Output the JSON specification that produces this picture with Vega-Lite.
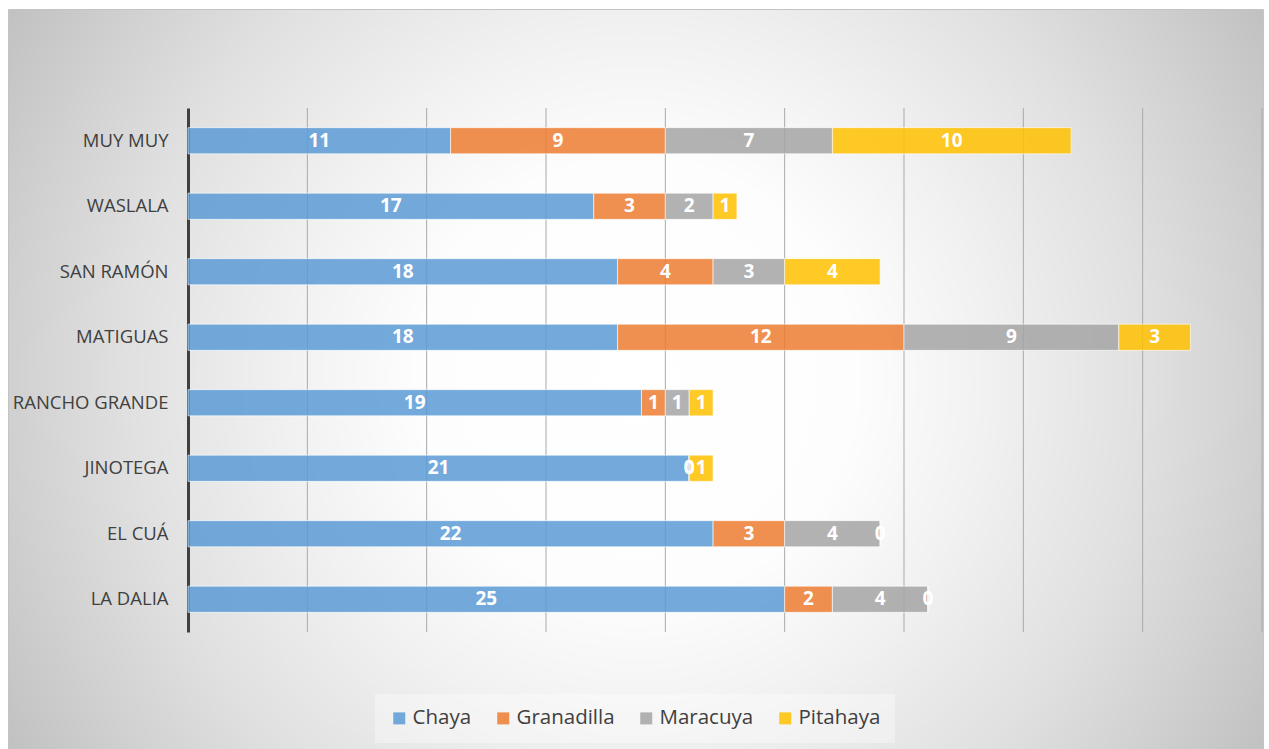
{
  "$schema": "https://vega.github.io/schema/vega-lite/v6.json",
  "width": 1255,
  "height": 740,
  "autosize": {"type": "none"},
  "padding": {"left": 8, "top": 9, "right": 6, "bottom": 0},
  "background": "white",
  "config": {"font": "Open Sans"},
  "view": {
    "stroke": "#c4c4c4",
    "strokeWidth": 1,
    "fill": {
      "gradient": "radial",
      "x1": 0.5, "y1": 0.5, "r1": 0,
      "x2": 0.5, "y2": 0.5, "r2": 0.58,
      "stops": [
        {"offset": 0, "color": "#ffffff"},
        {"offset": 0.3, "color": "#fdfdfd"},
        {"offset": 0.48, "color": "#f1f1f1"},
        {"offset": 0.7, "color": "#e0e0e0"},
        {"offset": 0.85, "color": "#d1d1d1"},
        {"offset": 1, "color": "#c1c1c1"}
      ]
    }
  },
  "datasets": {
    "grid": [
      {"g": 5}, {"g": 10}, {"g": 15}, {"g": 20}, {"g": 25},
      {"g": 30}, {"g": 35}, {"g": 40}, {"g": 45}
    ],
    "frutas": [
      {"muni": "MUY MUY", "fruta": "Chaya", "n": 11},
      {"muni": "MUY MUY", "fruta": "Granadilla", "n": 9},
      {"muni": "MUY MUY", "fruta": "Maracuya", "n": 7},
      {"muni": "MUY MUY", "fruta": "Pitahaya", "n": 10},
      {"muni": "WASLALA", "fruta": "Chaya", "n": 17},
      {"muni": "WASLALA", "fruta": "Granadilla", "n": 3},
      {"muni": "WASLALA", "fruta": "Maracuya", "n": 2},
      {"muni": "WASLALA", "fruta": "Pitahaya", "n": 1},
      {"muni": "SAN RAMÓN", "fruta": "Chaya", "n": 18},
      {"muni": "SAN RAMÓN", "fruta": "Granadilla", "n": 4},
      {"muni": "SAN RAMÓN", "fruta": "Maracuya", "n": 3},
      {"muni": "SAN RAMÓN", "fruta": "Pitahaya", "n": 4},
      {"muni": "MATIGUAS", "fruta": "Chaya", "n": 18},
      {"muni": "MATIGUAS", "fruta": "Granadilla", "n": 12},
      {"muni": "MATIGUAS", "fruta": "Maracuya", "n": 9},
      {"muni": "MATIGUAS", "fruta": "Pitahaya", "n": 3},
      {"muni": "RANCHO GRANDE", "fruta": "Chaya", "n": 19},
      {"muni": "RANCHO GRANDE", "fruta": "Granadilla", "n": 1},
      {"muni": "RANCHO GRANDE", "fruta": "Maracuya", "n": 1},
      {"muni": "RANCHO GRANDE", "fruta": "Pitahaya", "n": 1},
      {"muni": "JINOTEGA", "fruta": "Chaya", "n": 21},
      {"muni": "JINOTEGA", "fruta": "Granadilla", "n": 0},
      {"muni": "JINOTEGA", "fruta": "Maracuya", "n": 0},
      {"muni": "JINOTEGA", "fruta": "Pitahaya", "n": 1},
      {"muni": "EL CUÁ", "fruta": "Chaya", "n": 22},
      {"muni": "EL CUÁ", "fruta": "Granadilla", "n": 3},
      {"muni": "EL CUÁ", "fruta": "Maracuya", "n": 4},
      {"muni": "EL CUÁ", "fruta": "Pitahaya", "n": 0},
      {"muni": "LA DALIA", "fruta": "Chaya", "n": 25},
      {"muni": "LA DALIA", "fruta": "Granadilla", "n": 2},
      {"muni": "LA DALIA", "fruta": "Maracuya", "n": 4},
      {"muni": "LA DALIA", "fruta": "Pitahaya", "n": 0}
    ]
  },
  "resolve": {"scale": {"y": "independent"}},
  "layer": [
    {
      "data": {"name": "grid"},
      "mark": {"type": "rule", "color": "#a9a9a9", "strokeWidth": 1},
      "encoding": {
        "x": {
          "field": "g",
          "type": "quantitative",
          "scale": {"domain": [0, 45], "range": [180, 1254], "nice": false, "zero": true},
          "axis": null
        },
        "y": {
          "datum": 0,
          "type": "quantitative",
          "scale": {"domain": [0, 1], "range": [99, 623], "nice": false, "zero": false},
          "axis": null
        },
        "y2": {"datum": 1}
      }
    },
    {
      "data": {"name": "frutas"},
      "mark": {"type": "bar", "fillOpacity": 0.85, "stroke": "white", "strokeOpacity": 0.6, "strokeWidth": 1},
      "encoding": {
        "y": {
          "field": "muni",
          "type": "nominal",
          "sort": ["MUY MUY", "WASLALA", "SAN RAMÓN", "MATIGUAS", "RANCHO GRANDE", "JINOTEGA", "EL CUÁ", "LA DALIA"],
          "scale": {"range": [99, 623], "paddingInner": 0.6, "paddingOuter": 0.3},
          "axis": {
            "title": null,
            "offset": -180,
            "domain": true,
            "domainColor": "#404040",
            "domainWidth": 3,
            "ticks": false,
            "grid": false,
            "labelFont": "Open Sans",
            "labelFontSize": 18.5,
            "labelColor": "#404040",
            "labelPadding": 20
          }
        },
        "x": {
          "field": "n",
          "type": "quantitative",
          "stack": "zero",
          "scale": {"domain": [0, 45], "range": [180, 1254], "nice": false, "zero": true},
          "axis": null
        },
        "order": {"field": "fruta", "sort": "ascending"},
        "color": {
          "field": "fruta",
          "type": "nominal",
          "scale": {
            "domain": ["Chaya", "Granadilla", "Maracuya", "Pitahaya"],
            "range": ["#5B9BD5", "#ED7D31", "#A5A5A5", "#FFC000"]
          },
          "legend": {
            "title": null,
            "orient": "none",
            "legendX": 367,
            "legendY": 685,
            "direction": "horizontal",
            "columns": 4,
            "symbolType": "square",
            "symbolSize": 144,
            "symbolStrokeWidth": 0,
            "symbolOpacity": 0.85,
            "labelFont": "Open Sans",
            "labelFontSize": 20.5,
            "labelColor": "#404040",
            "columnPadding": 21,
            "labelOffset": 3,
            "padding": 14,
            "fillColor": "rgba(255,255,255,0.35)"
          }
        }
      }
    },
    {
      "data": {"name": "frutas"},
      "mark": {"type": "text", "color": "white", "fontWeight": "bold", "fontSize": 19, "font": "Open Sans", "baseline": "middle", "align": "center"},
      "encoding": {
        "y": {
          "field": "muni",
          "type": "nominal",
          "sort": ["MUY MUY", "WASLALA", "SAN RAMÓN", "MATIGUAS", "RANCHO GRANDE", "JINOTEGA", "EL CUÁ", "LA DALIA"],
          "scale": {"range": [99, 623], "paddingInner": 0.6, "paddingOuter": 0.3},
          "axis": null
        },
        "x": {
          "field": "n",
          "type": "quantitative",
          "stack": "zero",
          "bandPosition": 0.5,
          "scale": {"domain": [0, 45], "range": [180, 1254], "nice": false, "zero": true},
          "axis": null
        },
        "order": {"field": "fruta", "sort": "ascending"},
        "detail": {"field": "fruta"},
        "text": {"field": "n", "type": "quantitative"}
      }
    }
  ]
}
